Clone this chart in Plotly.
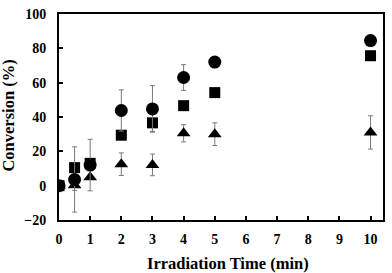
import plotly.graph_objects as go

time = [0, 0.5, 1, 2, 3, 4, 5, 10]
circle_y = [0, 3.6, 12, 43.8, 44.7, 63, 72, 84.5]
circle_err = [2.5, 19, 15, 12, 13.6, 7.5, 0, 0]
square_y = [0, 10.5, 13, 29.4, 36.6, 46.6, 54.2, 75.7]
square_err = [0, 0, 0, 0, 5, 0, 0, 0]
triangle_y = [0, 0.2, 4.9, 12.5, 12.1, 30.5, 30, 31]
triangle_err = [0, 3, 0, 6.6, 6.3, 5, 6.6, 9.7]

x_ticks = [0, 1, 2, 3, 4, 5, 6, 7, 8, 9, 10]
y_ticks = [-20, 0, 20, 40, 60, 80, 100]
x_title = "Irradiation Time (min)"
y_title = "Conversion (%)"

font_family = "Liberation Serif"
err_style = dict(type="data", visible=True, color="#7a7a7a", thickness=1, width=2.5)

fig = go.Figure()
fig.add_trace(go.Scatter(x=time, y=triangle_y, mode="markers",
                         marker=dict(symbol="triangle-up", size=12, color="black"),
                         error_y=dict(array=triangle_err, **err_style)))
fig.add_trace(go.Scatter(x=time, y=square_y, mode="markers",
                         marker=dict(symbol="square", size=11, color="black"),
                         error_y=dict(array=square_err, **err_style)))
fig.add_trace(go.Scatter(x=time, y=circle_y, mode="markers",
                         marker=dict(symbol="circle", size=13, color="black"),
                         error_y=dict(array=circle_err, **err_style)))

axis_common = dict(showgrid=False, zeroline=False, showline=True, linecolor="black",
                   linewidth=2, mirror=True, ticks="inside", ticklen=4, tickwidth=1.5,
                   tickcolor="black",
                   tickfont=dict(family=font_family, size=14, color="black", weight="bold"))

fig.update_layout(
    width=392, height=273,
    margin=dict(l=59, r=7, t=8, b=53),
    paper_bgcolor="white", plot_bgcolor="white",
    showlegend=False,
    font=dict(family=font_family, color="black"),
    xaxis=dict(range=[0, 10.4], tickvals=x_ticks, ticklabelstandoff=5, **axis_common),
    yaxis=dict(range=[-20, 100], tickvals=y_ticks, ticklabelstandoff=8, **axis_common),
    annotations=[
        dict(text=x_title, xref="paper", yref="paper", x=0.521, y=0,
             xanchor="center", yanchor="middle", yshift=-43, showarrow=False,
             font=dict(family=font_family, size=16.5, color="black", weight="bold")),
        dict(text=y_title, xref="paper", yref="paper", x=0, y=0.507, textangle=-90,
             xanchor="center", yanchor="middle", xshift=-50, showarrow=False,
             font=dict(family=font_family, size=16.5, color="black", weight="bold")),
    ],
)

fig.write_html("out.html", config={"displayModeBar": False},
               post_script="document.body.style.margin='0';document.body.style.overflow='hidden';")
